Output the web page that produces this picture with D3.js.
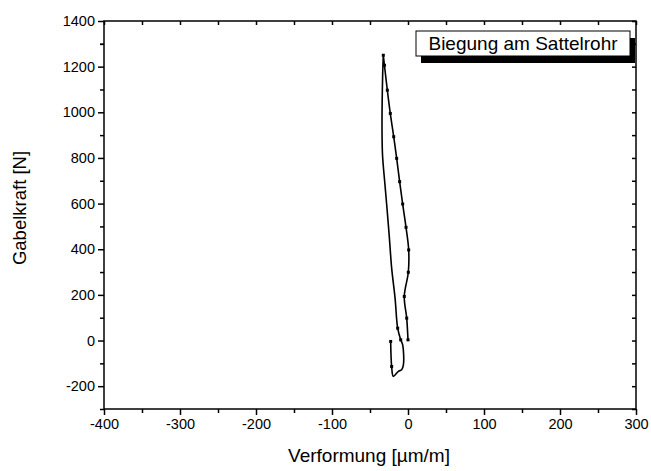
<!DOCTYPE html>
<html>
<head>
<meta charset="utf-8">
<script src="https://cdn.jsdelivr.net/npm/d3@7"></script>
<style>
  body { margin: 0; background: #fff; }
  text { font-family: "Liberation Sans", Arial, sans-serif; }
</style>
</head>
<body>
<div id="chart"></div>
<script>
// loading branch (with markers), bottom to top
const loadX = [0, -1.7, -4.9, 0.4, 0.9, -2.6, -7, -11, -14.9, -18.8, -23.3, -27.2, -31, -32.5];
const loadY = [3, 98, 193, 299, 397, 496, 598, 696, 798, 893, 995, 1097, 1206, 1250];
// unloading branch, top to bottom
const unloadX = [-32.5, -33.3, -34.2, -33.5, -30.5, -28, -24.5, -21.5, -17, -13.6, -9.6, -7, -6, -8.3, -12.7, -19.3, -21.5, -22.8];
const unloadY = [1250, 1170, 936, 812, 690, 594, 450, 317, 185, 54, 3, -19, -106, -128, -135, -157, -114, -4];

const xTicks = [-400, -300, -200, -100, 0, 100, 200, 300];
const yTicks = [-200, 0, 200, 400, 600, 800, 1000, 1200, 1400];
const legendLabel = "Biegung am Sattelrohr";

const W = 651, H = 471;
const margin = { left: 104, right: 15, top: 21, bottom: 62 };
const width = W - margin.left - margin.right,
  height = H - margin.top - margin.bottom;

const svg = d3.select("#chart").append("svg")
  .attr("width", W).attr("height", H);
const g = svg.append("g")
  .attr("transform", "translate(" + margin.left + "," + margin.top + ")");

const x = d3.scaleLinear().domain([-400, 300]).range([0, width]);
const y = d3.scaleLinear().domain([-300, 1400]).range([height, 0]);

// minor ticks first, then major with labels
const xMinor = d3.range(-350, 300, 100);
const yMinor = d3.range(-300, 1400, 200).concat([1300]);

function styleAxis(sel) {
  sel.select(".domain").remove();
  sel.selectAll("line").attr("stroke", "#000").attr("stroke-width", 1.5);
  sel.selectAll("text").attr("font-size", 14.5).attr("fill", "#000");
}
const fmt = d => String(d);

g.append("g").attr("transform", "translate(0," + height + ")")
  .call(d3.axisBottom(x).tickValues(xMinor).tickSize(4).tickFormat(""))
  .call(styleAxis);
g.append("g").attr("transform", "translate(0," + height + ")")
  .call(d3.axisBottom(x).tickValues(xTicks).tickSize(6).tickPadding(4).tickFormat(fmt))
  .call(styleAxis);
g.append("g")
  .call(d3.axisLeft(y).tickValues(yMinor).tickSize(4).tickFormat(""))
  .call(styleAxis);
g.append("g")
  .call(d3.axisLeft(y).tickValues(yTicks).tickSize(6).tickPadding(3).tickFormat(fmt))
  .call(styleAxis);
// inward ticks on top and right
g.append("g")
  .call(d3.axisTop(x).tickValues(xTicks.concat(xMinor)).tickSize(-4).tickFormat(""))
  .call(styleAxis);
g.append("g").attr("transform", "translate(" + width + ",0)")
  .call(d3.axisRight(y).tickValues(yTicks.concat(yMinor)).tickSize(-4).tickFormat(""))
  .call(styleAxis);

g.append("rect")
  .attr("width", width).attr("height", height)
  .attr("fill", "none").attr("stroke", "#000").attr("stroke-width", 1.5);

// curve
const pts = loadX.map((v, i) => [v, loadY[i]])
  .concat(unloadX.map((v, i) => [v, unloadY[i]]));
const line = d3.line().x(d => x(d[0])).y(d => y(d[1])).curve(d3.curveCatmullRom);
g.append("path").datum(pts)
  .attr("d", line)
  .attr("fill", "none").attr("stroke", "#000").attr("stroke-width", 1.6);

g.selectAll(".mk").data(loadX.map((v, i) => [v, loadY[i]]))
  .enter().append("rect")
  .attr("x", d => x(d[0]) - 1.5).attr("y", d => y(d[1]) - 1.5)
  .attr("width", 3).attr("height", 3).attr("fill", "#000");
g.selectAll(".mk2").data([[unloadX[9], unloadY[9]], [unloadX[10], unloadY[10]], [unloadX[16], unloadY[16]], [unloadX[17], unloadY[17]]])
  .enter().append("rect")
  .attr("x", d => x(d[0]) - 1.5).attr("y", d => y(d[1]) - 1.5)
  .attr("width", 3).attr("height", 3).attr("fill", "#000");

// legend with shadow
const lx = 416 - margin.left, ly = 31 - margin.top, lw = 214, lh = 25;
g.append("rect").attr("x", lx + 5).attr("y", ly + 7).attr("width", lw).attr("height", lh).attr("fill", "#000");
g.append("rect").attr("x", lx).attr("y", ly).attr("width", lw).attr("height", lh)
  .attr("fill", "#fff").attr("stroke", "#000").attr("stroke-width", 1);
g.append("text").attr("x", lx + lw / 2).attr("y", ly + 19)
  .attr("text-anchor", "middle").attr("font-size", 19).text(legendLabel);

// axis titles
svg.append("text").attr("x", margin.left + width / 2 - 1).attr("y", 462)
  .attr("text-anchor", "middle").attr("font-size", 19).text("Verformung [µm/m]");
svg.append("text").attr("transform", "translate(26," + (margin.top + height / 2 - 7) + ") rotate(-90)")
  .attr("text-anchor", "middle").attr("font-size", 18.5).text("Gabelkraft [N]");
</script>
</body>
</html>
